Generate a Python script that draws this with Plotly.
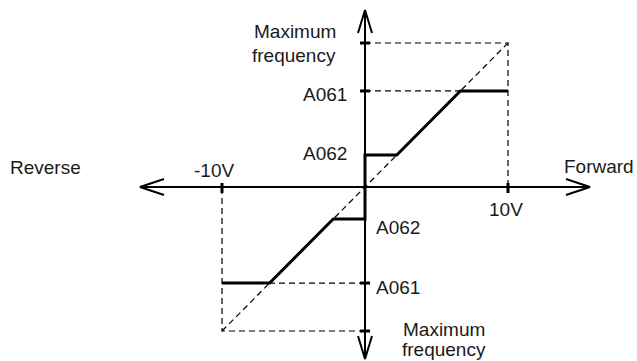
import plotly.graph_objects as go

# ---- data (chart units: volts on x, frequency on y; max freq drawn at 10) ----
volt_ticks = [-10, 10]
volt_labels = ["-10V", "10V"]
max_freq = 10.0
a061 = 6.67
a062 = 2.22
# characteristic (solid) curve breakpoints
curve_x = [-10, -a061, -a062, 0, 0, a062, a061, 10]
curve_y = [-a061, -a061, -a062, -a062, a062, a062, a061, a061]

W, H = 637, 361
OX, OY = 365, 187          # origin in pixels
SX, SY = 14.3, 14.4         # pixels per unit
x_rng = [(0 - OX) / SX, (W - OX) / SX]
y_rng = [(OY - H) / SY, (OY - 0) / SY]

def ux(px):
    return (px - OX) / SX

def uy(py):
    return (OY - py) / SY

FONT = dict(family="Liberation Sans, Arial, sans-serif", size=19, color="#1a1a1a")
BLACK = "#000000"

fig = go.Figure()

def seg(xs, ys, width, dash=None, color=BLACK):
    fig.add_trace(go.Scatter(x=xs, y=ys, mode="lines", hoverinfo="skip",
                             line=dict(color=color, width=width, dash=dash),
                             showlegend=False, cliponaxis=False))

# axis extents
xl, xr = ux(140), ux(590)
yt, yb = uy(10), uy(359)
seg([xl, xr], [0, 0], 2)
seg([0, 0], [yb, yt], 2)

# arrowheads (open V)
al_x, ah_x = 24 / SX, 8 / SY
al_y, ah_y = 23 / SY, 7 / SX
seg([xl + al_x, xl, xl + al_x], [ah_x, 0, -ah_x], 2)
seg([xr - al_x, xr, xr - al_x], [ah_x, 0, -ah_x], 2)
seg([-ah_y, 0, ah_y], [yt - al_y, yt, yt - al_y], 2)
seg([-ah_y, 0, ah_y], [yb + al_y, yb, yb + al_y], 2)

# dashed guides
dash = "6px,4px"
vmin, vmax = volt_ticks
seg([vmin, vmax], [-max_freq, max_freq], 1.2, dash)
seg([0, vmax, vmax], [max_freq, max_freq, 0], 1.2, dash)
seg([0, vmin, vmin], [-max_freq, -max_freq, 0], 1.2, dash)
seg([0, a061], [a061, a061], 1.2, dash)
seg([0, -a061], [-a061, -a061], 1.2, dash)

# characteristic
seg(curve_x, curve_y, 3)

# tick marks
tx, ty = [], []
for v in [max_freq, a061, -a061, -max_freq]:
    tx += [-5 / SX, 5 / SX, None]
    ty += [v, v, None]
seg(tx, ty, 3)
tx, ty = [], []
for v in volt_ticks:
    tx += [v, v, None]
    ty += [4 / SY, -6 / SY, None]
seg(tx, ty, 3)

def txt(s, x, y, xanchor="center", yanchor="middle", align="center"):
    fig.add_annotation(text=s, x=x, y=y, xref="x", yref="y", showarrow=False,
                       xanchor=xanchor, yanchor=yanchor, align=align, font=FONT)

txt("Maximum", ux(294.5), uy(31.5))
txt("frequency", ux(293.5), uy(55))
txt("A061", ux(349), uy(94), xanchor="right")
txt("A062", ux(349), uy(153.5), xanchor="right")
txt(volt_labels[0], ux(214), uy(170))
txt(volt_labels[1], ux(506), uy(209))
txt("Reverse", ux(45), uy(167.5))
txt("Forward", ux(599), uy(166))
txt("A062", ux(374), uy(227.5), xanchor="left")
txt("A061", ux(374), uy(287.5), xanchor="left")
txt("Maximum", ux(443.5), uy(329.5))
txt("frequency", ux(443.5), uy(349))

fig.update_layout(
    width=W, height=H, margin=dict(l=0, r=0, t=0, b=0),
    paper_bgcolor="white", plot_bgcolor="white",
    xaxis=dict(range=x_rng, visible=False, fixedrange=True),
    yaxis=dict(range=y_rng, visible=False, fixedrange=True),
)
fig.write_html(
    "out.html",
    config={"displayModeBar": False, "staticPlot": True},
    post_script="document.body.style.margin='0';"
                "document.documentElement.style.overflow='hidden';",
)
